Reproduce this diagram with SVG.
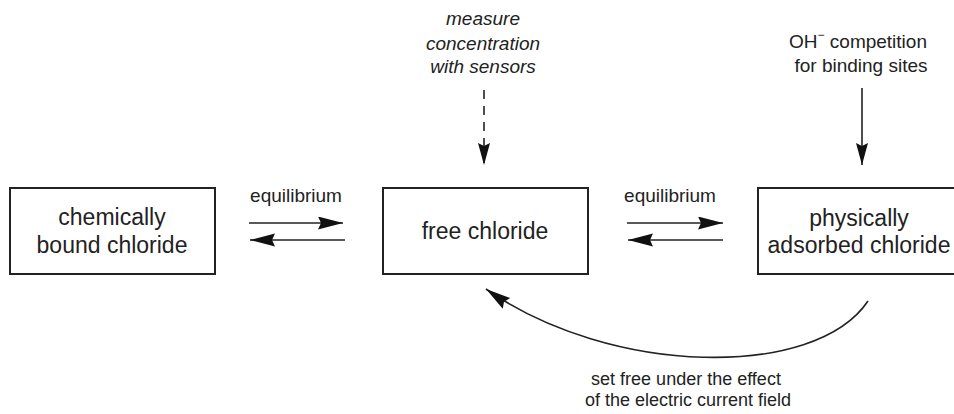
<svg xmlns="http://www.w3.org/2000/svg" width="954" height="414" viewBox="0 0 954 414">
<style>
.box{fill:#fff;stroke:#222;stroke-width:2}
.lbl{font-family:"Liberation Sans",Arial,sans-serif;fill:#222;text-anchor:middle}
.big{font-size:23px}
.mid{font-size:19px}
.sm{font-size:18px}
.it{font-style:italic}
.ln{fill:none;stroke:#222;stroke-width:1.6}
</style>
<defs>
<marker id="ah" markerUnits="userSpaceOnUse" markerWidth="26" markerHeight="14" refX="25" refY="6.5" orient="auto">
<path d="M0,0 L25,6.5 L0,13 L3,6.5 z" fill="#111"/>
</marker>
<marker id="ahs" markerUnits="userSpaceOnUse" markerWidth="24" markerHeight="14" refX="22" refY="6" orient="auto">
<path d="M0,0 L22,6 L0,12 L3,6 z" fill="#111"/>
</marker>
</defs>
<rect width="954" height="414" fill="#fff"/>
<g id="connectors">
<line class="ln" x1="249" y1="223" x2="343" y2="223" marker-end="url(#ah)"/>
<line class="ln" x1="345" y1="240" x2="250" y2="240" marker-end="url(#ah)"/>
<line class="ln" x1="627" y1="223" x2="723" y2="223" marker-end="url(#ah)"/>
<line class="ln" x1="723" y1="240" x2="628" y2="240" marker-end="url(#ah)"/>
<line class="ln" x1="484" y1="90" x2="484" y2="165" stroke-dasharray="9,7" marker-end="url(#ahs)"/>
<line class="ln" x1="862" y1="88" x2="862" y2="165" marker-end="url(#ahs)"/>
<path class="ln" d="M868,301 C815,380 610,376 486,289" marker-end="url(#ah)"/>
</g>
<g id="labels">
<text class="lbl mid" x="296" y="202">equilibrium</text>
<text class="lbl mid" x="670" y="202">equilibrium</text>
<text class="lbl mid it" x="483" y="25">measure</text>
<text class="lbl mid it" x="483" y="50">concentration</text>
<text class="lbl mid it" x="483" y="73">with sensors</text>
<text class="lbl mid" x="858" y="48">OH<tspan font-size="12" dy="-9">−</tspan><tspan dy="9"> competition</tspan></text>
<text class="lbl mid" x="861" y="72">for binding sites</text>
<text class="lbl sm" x="686" y="385">set free under the effect</text>
<text class="lbl sm" x="688" y="406">of the electric current field</text>
</g>
<g id="node-chemically-bound">
<rect class="box" x="10" y="188" width="205" height="86"/>
<text class="lbl big" x="112" y="225">chemically</text>
<text class="lbl big" x="112" y="253">bound chloride</text>
</g>
<g id="node-free">
<rect class="box" x="383" y="188" width="205" height="86"/>
<text class="lbl big" x="485" y="239">free chloride</text>
</g>
<g id="node-physically-adsorbed">
<rect class="box" x="758" y="188" width="205" height="86"/>
<text class="lbl big" x="859" y="226">physically</text>
<text class="lbl big" x="859" y="253">adsorbed chloride</text>
</g>
</svg>
